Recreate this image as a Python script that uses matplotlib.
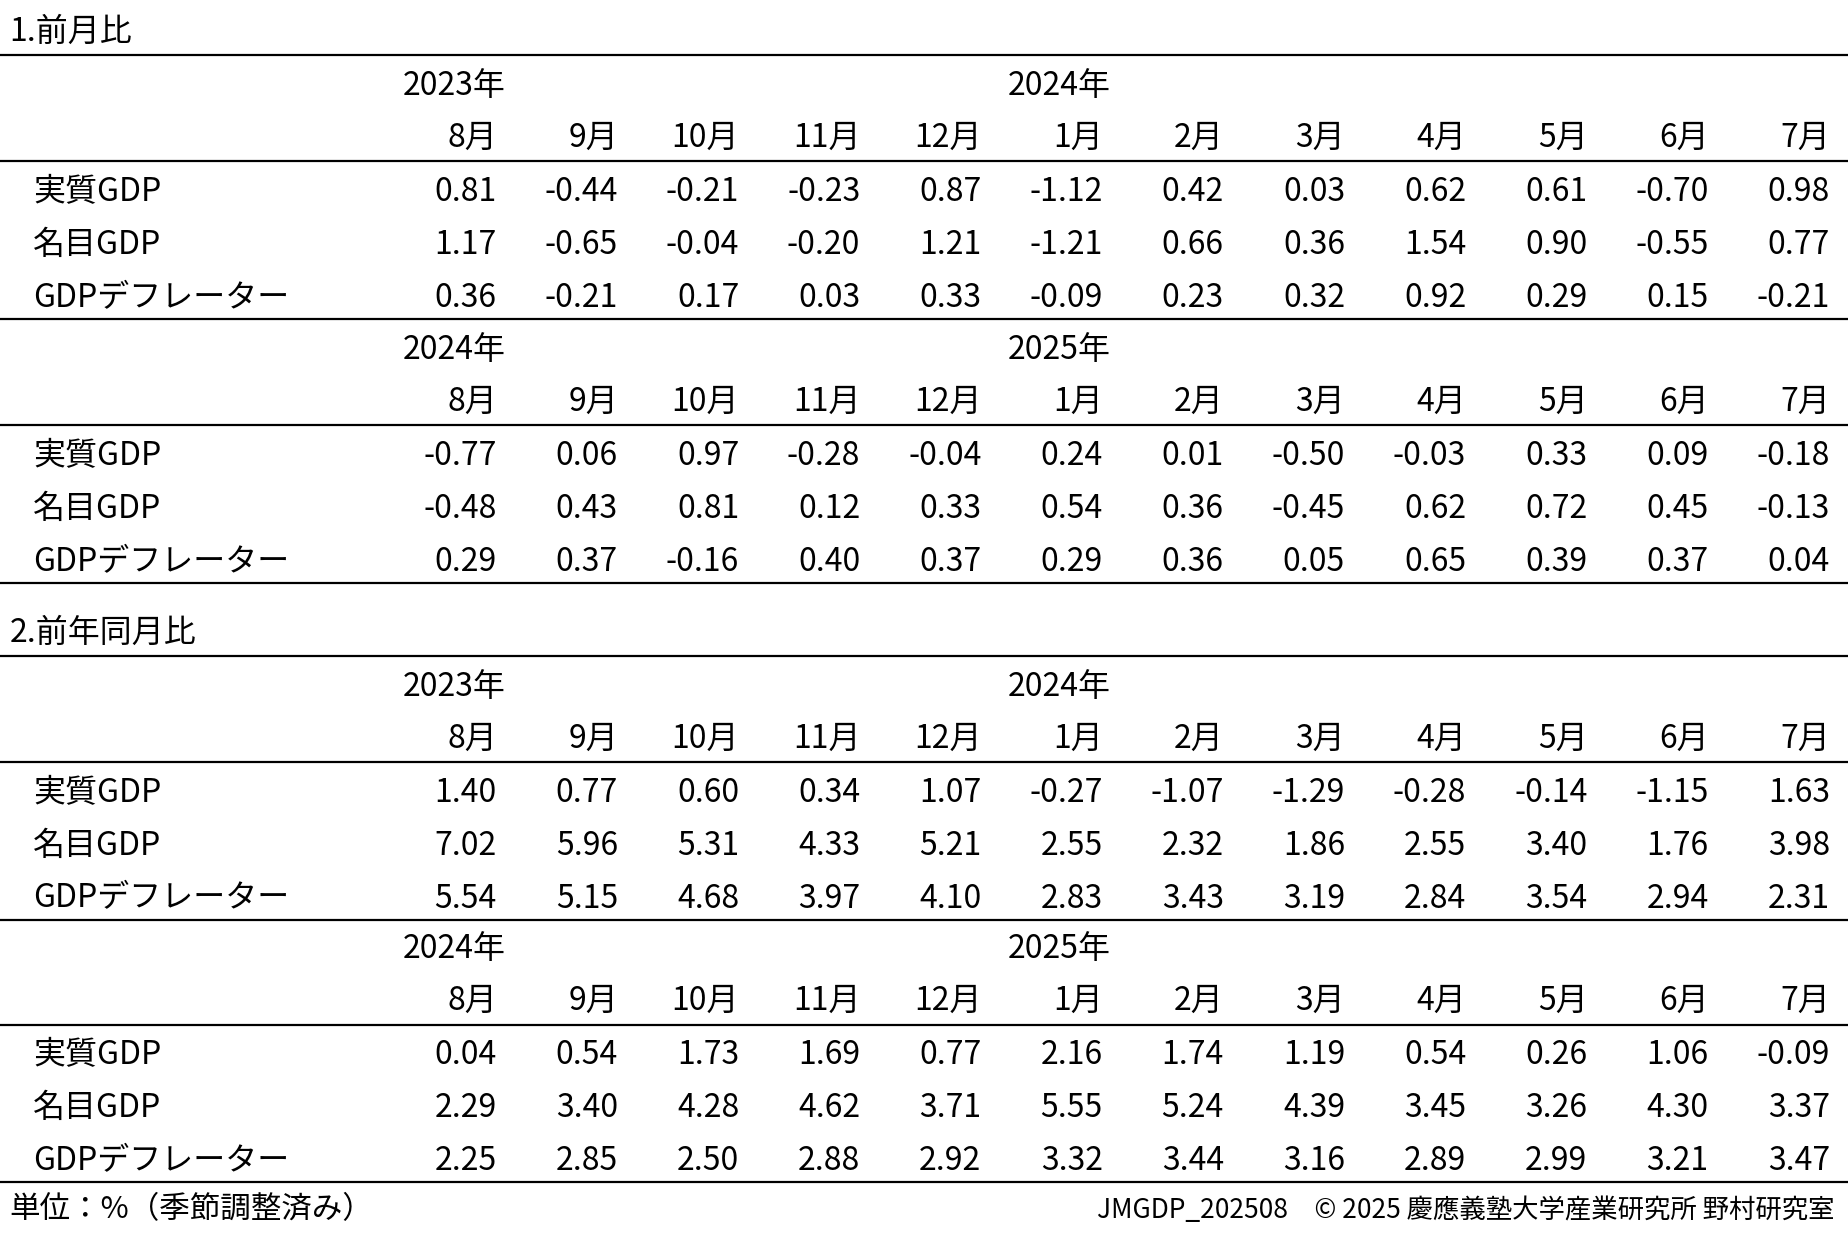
import matplotlib.pyplot as plt

plt.rcParams['font.family'] = ['Noto Sans CJK JP']

row_labels = ['実質GDP', '名目GDP', 'GDPデフレーター']
months = ['8月', '9月', '10月', '11月', '12月', '1月', '2月', '3月', '4月', '5月', '6月', '7月']

mom_2023 = [
    [0.81, -0.44, -0.21, -0.23, 0.87, -1.12, 0.42, 0.03, 0.62, 0.61, -0.70, 0.98],
    [1.17, -0.65, -0.04, -0.20, 1.21, -1.21, 0.66, 0.36, 1.54, 0.90, -0.55, 0.77],
    [0.36, -0.21, 0.17, 0.03, 0.33, -0.09, 0.23, 0.32, 0.92, 0.29, 0.15, -0.21],
]
mom_2024 = [
    [-0.77, 0.06, 0.97, -0.28, -0.04, 0.24, 0.01, -0.50, -0.03, 0.33, 0.09, -0.18],
    [-0.48, 0.43, 0.81, 0.12, 0.33, 0.54, 0.36, -0.45, 0.62, 0.72, 0.45, -0.13],
    [0.29, 0.37, -0.16, 0.40, 0.37, 0.29, 0.36, 0.05, 0.65, 0.39, 0.37, 0.04],
]
yoy_2023 = [
    [1.40, 0.77, 0.60, 0.34, 1.07, -0.27, -1.07, -1.29, -0.28, -0.14, -1.15, 1.63],
    [7.02, 5.96, 5.31, 4.33, 5.21, 2.55, 2.32, 1.86, 2.55, 3.40, 1.76, 3.98],
    [5.54, 5.15, 4.68, 3.97, 4.10, 2.83, 3.43, 3.19, 2.84, 3.54, 2.94, 2.31],
]
yoy_2024 = [
    [0.04, 0.54, 1.73, 1.69, 0.77, 2.16, 1.74, 1.19, 0.54, 0.26, 1.06, -0.09],
    [2.29, 3.40, 4.28, 4.62, 3.71, 5.55, 5.24, 4.39, 3.45, 3.26, 4.30, 3.37],
    [2.25, 2.85, 2.50, 2.88, 2.92, 3.32, 3.44, 3.16, 2.89, 2.99, 3.21, 3.47],
]

W, H = 1567, 1052
FS = 23
col_right = [421 + 102.7 * i for i in range(12)]

fig = plt.figure(figsize=(18.49, 12.39), dpi=100)
ax = fig.add_axes([0, 0, 1, 1])
ax.set_xlim(0, W)
ax.set_ylim(H, 0)
ax.axis('off')


def hline(y, lw=1.6):
    ax.plot([0, W], [y, y], color='black', lw=lw)


def block(y0, years, data):
    ax.text(385, y0 + 3, years[0], fontsize=FS, ha='center', va='center')
    ax.text(898, y0 + 3, years[1], fontsize=FS, ha='center', va='center')
    for x, m in zip(col_right, months):
        ax.text(x, y0 + 47, m, fontsize=FS, ha='right', va='center')
    hline(y0 + 67)
    for r, (lab, vals) in enumerate(zip(row_labels, data)):
        y = y0 + 93 + 45 * r
        ax.text(28, y, lab, fontsize=FS, ha='left', va='center')
        for x, v in zip(col_right, vals):
            ax.text(x, y, f'{v:.2f}', fontsize=FS, ha='right', va='center')
    hline(y0 + 201)


ax.text(8, 27, '1.前月比', fontsize=FS, ha='left', va='center')
hline(47)
block(70, ['2023年', '2024年'], mom_2023)
block(294, ['2024年', '2025年'], mom_2024)

ax.text(8, 537, '2.前年同月比', fontsize=FS, ha='left', va='center')
hline(557)
block(580, ['2023年', '2024年'], yoy_2023)
block(803, ['2024年', '2025年'], yoy_2024)

ax.text(8, 1027, '単位：%（季節調整済み）', fontsize=FS - 1, ha='left', va='center')
ax.text(1555, 1028, 'JMGDP_202508　© 2025 慶應義塾大学産業研究所 野村研究室',
        fontsize=FS - 4, ha='right', va='center')

fig.savefig('out.png', dpi=100, facecolor='white')
